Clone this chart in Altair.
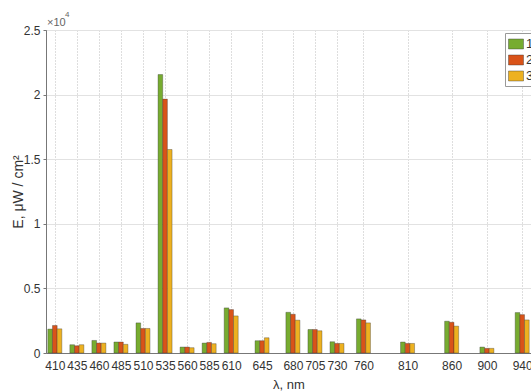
import altair as alt
import pandas as pd

# Wavelengths (nm) and irradiance for the three measurement series (µW/cm²)
wavelengths = [410, 435, 460, 485, 510, 535, 560, 585, 610, 645, 680, 705, 730, 760, 810, 860, 900, 940]
series_1 = [1850, 640, 970, 850, 2330, 21550, 460, 770, 3490, 950, 3150, 1820, 870, 2640, 850, 2460, 460, 3130]
series_2 = [2130, 560, 770, 850, 1900, 19650, 460, 820, 3360, 950, 3000, 1820, 740, 2560, 740, 2380, 360, 2970]
series_3 = [1870, 640, 770, 670, 1900, 15750, 410, 720, 2870, 1180, 2540, 1720, 740, 2330, 740, 2080, 360, 2560]

series_names = ["1", "2", "3"]
series_colors = ["#77AC30", "#D95319", "#EDB120"]
y_ticks = [0, 5000, 10000, 15000, 20000, 25000]

BAR_W = 5.3  # bar width in nm

rows = []
for idx, (name, vals) in enumerate(zip(series_names, [series_1, series_2, series_3])):
    for wl, v in zip(wavelengths, vals):
        rows.append({"wl": wl, "series": name, "idx": idx, "E": v})
df = pd.DataFrame(rows)

font = "Liberation Sans"

bars = (
    alt.Chart(df)
    .transform_calculate(
        x0=f"datum.wl - 1.5*{BAR_W} + datum.idx*{BAR_W}",
        x1=f"datum.wl - 0.5*{BAR_W} + datum.idx*{BAR_W}",
    )
    .mark_bar(stroke="#333333", strokeWidth=0.5, strokeOpacity=0.7)
    .encode(
        x=alt.X(
            "x0:Q",
            scale=alt.Scale(domain=[400, 950], nice=False, zero=False),
            axis=alt.Axis(
                values=wavelengths,
                title="λ, nm",
                labelFontSize=12,
                titleFontSize=13,
                titleFontWeight="normal",
                labelColor="#333333",
                titleColor="#333333",
                domainColor="#777777",
                tickSize=0,
                labelPadding=7,
                titlePadding=7,
                grid=True,
                gridColor="#bdbdbd",
                gridDash=[1, 2],
                labelFlush=False,
                labelOverlap=False,
            ),
        ),
        x2="x1:Q",
        y=alt.Y(
            "E:Q",
            scale=alt.Scale(domain=[0, 25000], nice=False),
            axis=alt.Axis(
                values=y_ticks,
                labelExpr="datum.value / 10000",
                title="E, μW / cm²",
                labelFontSize=12,
                titleFontSize=14,
                titleFontWeight="normal",
                labelColor="#333333",
                titleColor="#333333",
                domainColor="#777777",
                tickColor="#777777",
                tickSize=3,
                labelPadding=3,
                titlePadding=-2,
                grid=True,
                gridColor="#e2e2e2",
            ),
        ),
        y2=alt.datum(0),
        color=alt.Color(
            "series:N",
            scale=alt.Scale(domain=series_names, range=series_colors),
            legend=alt.Legend(
                title=None,
                orient="none",
                legendX=459,
                legendY=3,
                symbolType="M-1,-0.667H1V0.667H-1Z",
                symbolSize=225,
                symbolStrokeColor="#333333",
                symbolStrokeWidth=0.4,
                labelFontSize=13,
                labelColor="#333333",
                labelOffset=2,
                rowPadding=1,
                padding=3,
                strokeColor="#999999",
                fillColor="white",
            ),
        ),
    )
)

# Axis multiplier "×10^4" above the y axis
mult_base = (
    alt.Chart(pd.DataFrame({"t": ["×10"]}))
    .mark_text(align="left", baseline="bottom", fontSize=11, color="#666666", font=font)
    .encode(text="t:N", x=alt.value(1), y=alt.value(-2))
)
mult_exp = (
    alt.Chart(pd.DataFrame({"t": ["4"]}))
    .mark_text(align="left", baseline="bottom", fontSize=8, color="#666666", font=font)
    .encode(text="t:N", x=alt.value(19), y=alt.value(-11))
)

chart = (
    alt.layer(bars, mult_base, mult_exp)
    .properties(
        width=485,
        height=323,
        autosize=alt.AutoSizeParams(type="none"),
        padding={"left": 46, "top": 30, "right": 0, "bottom": 39},
    )
    .configure(font=font)
    .configure_view(stroke="#888888", strokeWidth=1)
)

chart.save("out.html", embed_options={"renderer": "svg", "actions": False})
